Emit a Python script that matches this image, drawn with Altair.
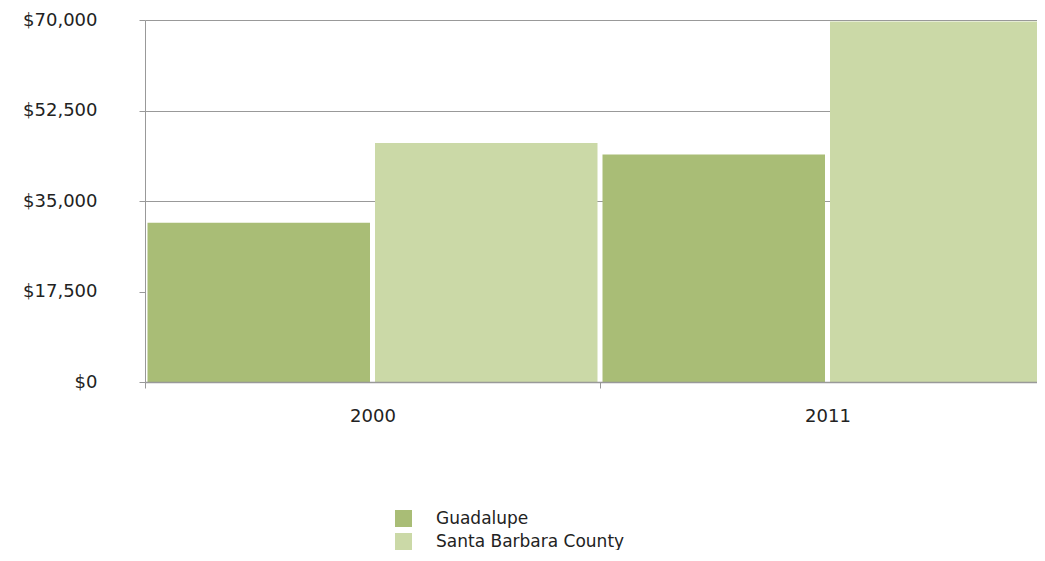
import altair as alt
import pandas as pd

years = ["2000", "2011"]
series = ["Guadalupe", "Santa Barbara County"]
guadalupe = [30800, 44000]
sbc = [46200, 69700]
y_ticks = [0, 17500, 35000, 52500, 70000]
colors = ["#a9bd76", "#cbd9a7"]

rows = []
for i, yr in enumerate(years):
    rows.append({"year": yr, "series": series[0], "value": guadalupe[i]})
    rows.append({"year": yr, "series": series[1], "value": sbc[i]})
df = pd.DataFrame(rows)

FONT = "DejaVu Sans"

chart = alt.Chart(df).mark_bar(clip=True).encode(
    x=alt.X("year:N", sort=years, title=None,
            scale=alt.Scale(paddingInner=0, paddingOuter=0, range=[0, 910]),
            axis=alt.Axis(labelAngle=0, labelFont=FONT, labelFontSize=18, labelColor="#222",
                          labelPadding=19, tickBand="extent", tickSize=6, tickColor="#999",
                          domainColor="#999", domainWidth=1.5, zindex=1)),
    xOffset=alt.XOffset("series:N", sort=series,
                        scale=alt.Scale(paddingInner=0.022, paddingOuter=0.011)),
    y=alt.Y("value:Q", title=None,
            scale=alt.Scale(domain=[0, 70000], nice=False),
            axis=alt.Axis(values=y_ticks, format="$,.0f", labelFont=FONT, labelFontSize=18,
                          labelColor="#222", labelPadding=42, tickSize=6, tickColor="#999",
                          domainColor="#999",
                          gridColor="#999",
                          gridOpacity=alt.condition("datum.value < 30000", alt.value(0), alt.value(1)),
                          zindex=0)),
    color=alt.Color("series:N", sort=series, title=None,
                    scale=alt.Scale(domain=series, range=colors),
                    legend=alt.Legend(orient="none", legendX=250, legendY=490,
                                      symbolType="square", symbolSize=289, symbolStrokeWidth=0,
                                      symbolOpacity=1, labelLimit=0,
                                      labelFont=FONT, labelFontSize=17, labelColor="#222",
                                      labelOffset=24, rowPadding=5)),
).properties(
    width=892, height=362,
    autosize=alt.AutoSizeParams(type="none"),
    padding={"left": 137, "top": 12, "right": 0, "bottom": 168},
).configure_view(stroke=None)

chart.save("out.html", embed_options={"renderer": "svg", "actions": False})
